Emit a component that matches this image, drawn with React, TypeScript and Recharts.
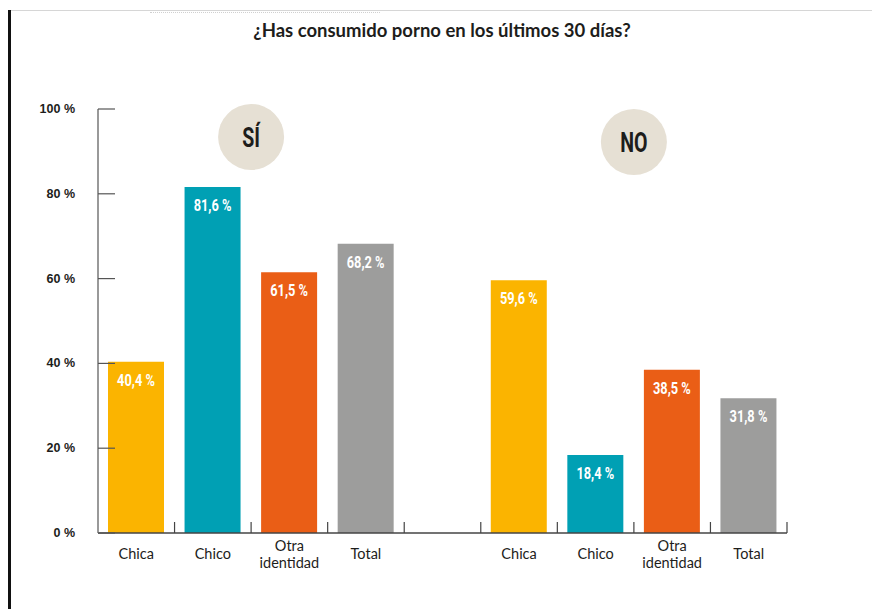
import React from 'react'
import { BarChart, Bar, XAxis, YAxis, Cell, LabelList, ReferenceDot } from 'recharts'

const groups = ['SÍ', 'NO']
const identities = ['Chica', 'Chico', 'Otra identidad', 'Total']
const siValues = [40.4, 81.6, 61.5, 68.2]
const noValues = [59.6, 18.4, 38.5, 31.8]
const barColors = ['#FBB400', '#00A0B4', '#EA5E16', '#9D9D9C']
const yTicks = [0, 20, 40, 60, 80, 100]
// badge position: anchored to the category whose right edge it sits on
const badgeAnchors = ['Chico', 'Chico']
const badgeLevels = [93.4, 92.2]

const W = 872
const H = 609
const MARGIN = { top: 109, right: 85, left: 0, bottom: 36 }
const Y_AXIS_W = 98
const X_AXIS_H = 40

const data = [
  ...identities.map((name, i) => ({ key: `SÍ-${name}`, name, value: siValues[i], color: barColors[i] })),
  { key: 'gap', name: '', value: null as number | null, color: 'transparent' },
  ...identities.map((name, i) => ({ key: `NO-${name}`, name, value: noValues[i], color: barColors[i] })),
]

const plotW = W - MARGIN.left - MARGIN.right - Y_AXIS_W
const band = plotW / data.length

const condensed = "Roboto, 'DejaVu Sans', sans-serif"
const textColor = '#1d1d1b'

const fmt = (v: number) => `${v.toFixed(1).replace('.', ',')} %`

// narrow bold text: no condensed face installed, so squeeze horizontally
function Narrow({ x, y, size, fill, children, squeeze = 0.8 }: any) {
  return (
    <text
      transform={`translate(${x},${y}) scale(${squeeze},1)`}
      textAnchor="middle"
      dominantBaseline="central"
      fontFamily={condensed}
      fontWeight={700}
      fontSize={size}
      fill={fill}
    >
      {children}
    </text>
  )
}

function YTick(props: any) {
  const { x, y, payload } = props
  return (
    <g>
      <line x1={x} x2={x + 17} y1={y} y2={y} stroke="#555" strokeWidth={1.2} />
      <text x={x - 23} y={y} textAnchor="end" dominantBaseline="central" fontFamily="'Liberation Sans', Arial, sans-serif" fontWeight={700} fontSize={12.5} fill={textColor}>
        {`${payload.value} %`}
      </text>
    </g>
  )
}

function XTick(props: any) {
  const { x, y, index } = props
  const label: string = data[index]?.name ?? ''
  const lines = label === 'Otra identidad' ? ['Otra', 'identidad'] : [label]
  return (
    <g>
      <line x1={x + band / 2} x2={x + band / 2} y1={y} y2={y - 11} stroke="#444" strokeWidth={1.2} />
      {lines.map((l, i) => (
        <text
          key={i}
          x={x}
          y={y + (lines.length === 1 ? 20 : 12 + i * 17)}
          textAnchor="middle"
          dominantBaseline="central"
          fontFamily="Lato, sans-serif"
          fontSize={14.5}
          fill={textColor}
        >
          {l}
        </text>
      ))}
    </g>
  )
}

function BarValue(props: any) {
  const { x, y, width, value } = props
  if (value == null) return null
  return (
    <Narrow x={x + width / 2} y={y + 19} size={16} fill="#ffffff">
      {fmt(value)}
    </Narrow>
  )
}

const badge = (text: string) => (props: any) => {
  const { cx, cy } = props
  if (cx == null || cy == null) return null
  return (
    <g>
      <circle cx={cx + band / 2} cy={cy} r={33} fill="#E6E0D4" />
      <Narrow x={cx + band / 2} y={cy + 1} size={28} fill={textColor} squeeze={0.7}>
        {text}
      </Narrow>
    </g>
  )
}

export default function App() {
  return (
    <div style={{ position: 'absolute', left: 0, top: 0, width: W, height: H, background: '#fff' }}>
      {/* page frame */}
      <div style={{ position: 'absolute', left: 8, top: 10, width: 3, height: H - 10, background: '#111' }} />
      <div style={{ position: 'absolute', left: 11, top: 10, width: W - 11, height: 1, background: '#d6d6d6' }} />
      <div style={{ position: 'absolute', left: 150, top: 12, width: 230, height: 0, borderTop: '1px dotted #d0d0d0' }} />
      <div
        style={{
          position: 'absolute',
          left: 7,
          top: 18,
          width: W - 2,
          textAlign: 'center',
          fontFamily: 'Lato, sans-serif',
          fontWeight: 700,
          fontSize: 18.5,
          lineHeight: '24px',
          color: textColor,
        }}
      >
        ¿Has consumido porno en los últimos 30 días?
      </div>
      <BarChart width={W} height={H} data={data} margin={MARGIN} style={{ position: 'absolute', left: 0, top: 0 }}>
        <XAxis
          dataKey="key"
          type="category"
          height={X_AXIS_H}
          interval={0}
          tickSize={0}
          tickMargin={0}
          tickLine={false}
          axisLine={{ stroke: '#444', strokeWidth: 1.5 }}
          tick={<XTick />}
        />
        <YAxis
          width={Y_AXIS_W}
          domain={[0, 100]}
          ticks={yTicks}
          interval={0}
          tickSize={0}
          tickMargin={0}
          tickLine={false}
          axisLine={{ stroke: '#777', strokeWidth: 1.5 }}
          tick={<YTick />}
        />
        <Bar dataKey="value" barSize={56} isAnimationActive={false}>
          {data.map((d) => (
            <Cell key={d.key} fill={d.color} />
          ))}
          <LabelList dataKey="value" content={<BarValue />} />
        </Bar>
        {groups.map((g, i) => (
          <ReferenceDot
            key={g}
            x={`${g}-${badgeAnchors[i]}`}
            y={badgeLevels[i]}
            r={33}
            ifOverflow="visible"
            shape={badge(g)}
          />
        ))}
      </BarChart>
    </div>
  )
}
